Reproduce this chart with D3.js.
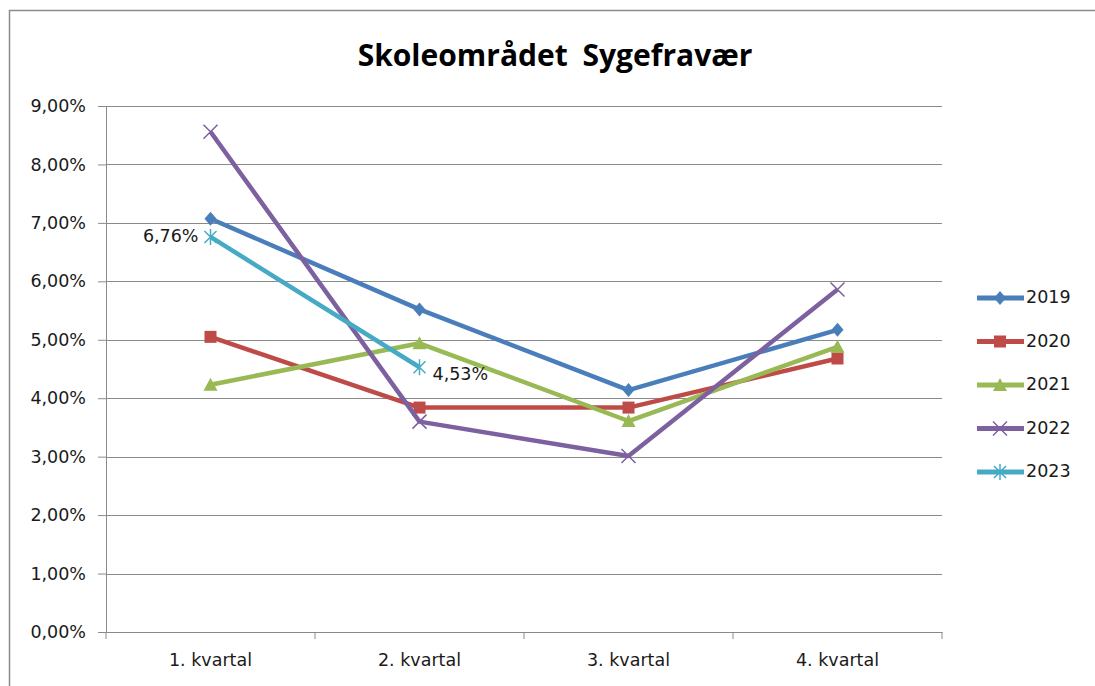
<!DOCTYPE html>
<html>
<head>
<meta charset="utf-8">
<script src="https://cdn.jsdelivr.net/npm/d3@7"></script>
<style>
  body { margin: 0; background: #fff; }
  svg { display: block; }
</style>
</head>
<body>
<div id="root"></div>
<script>
const quarters = ["1. kvartal", "2. kvartal", "3. kvartal", "4. kvartal"];
const years = ["2019", "2020", "2021", "2022", "2023"];
const v2019 = [7.07, 5.52, 4.14, 5.17];
const v2020 = [5.05, 3.84, 3.84, 4.68];
const v2021 = [4.23, 4.94, 3.61, 4.88];
const v2022 = [8.56, 3.6, 3.01, 5.86];
const v2023 = [6.76, 4.53];
const yTicks = [0, 1, 2, 3, 4, 5, 6, 7, 8, 9];
const colors = ["#4A7EBB", "#BE4B48", "#98B954", "#7D60A0", "#46AAC5"];
const markers = ["diamond", "square", "triangle", "x", "star"];

const width = 1095;
const height = 686;
const margin = { top: 106, right: 153, bottom: 54, left: 106 };
const innerWidth = width - margin.left - margin.right;
const innerHeight = height - margin.top - margin.bottom;
const fmt = (v) => v.toFixed(2).replace(".", ",") + "%";
const font = "'DejaVu Sans', Verdana, sans-serif";
const fontSize = "17.5px";

const series = [v2019, v2020, v2021, v2022, v2023].map((vals, i) => ({
  year: years[i],
  color: colors[i],
  marker: markers[i],
  values: vals.map((v, j) => ({ q: quarters[j], v })),
}));

const xScale = d3.scaleBand().domain(quarters).range([0, innerWidth]);
const yScale = d3.scaleLinear().domain([0, 9]).range([innerHeight, 0]);

const svg = d3
  .select("#root")
  .append("svg")
  .attr("width", width)
  .attr("height", height);

// chart border (right and bottom edges fall outside the picture)
svg
  .append("path")
  .attr("d", `M9.5,${height}V10.5H${width}`)
  .attr("fill", "none")
  .attr("stroke", "#8c8c8c")
  .attr("stroke-width", 1.5);

svg
  .append("text")
  .text("Skoleområdet Sygefravær")
  .attr("x", 555)
  .attr("y", 66)
  .attr("text-anchor", "middle")
  .style("font-family", "'Open Sans', sans-serif")
  .style("font-size", "30px")
  .style("font-weight", 700)
  .style("word-spacing", "7px")
  .attr("fill", "#000");

const innerChart = svg
  .append("g")
  .attr("transform", `translate(${margin.left}, ${margin.top})`);

// gridlines
innerChart
  .selectAll(".grid")
  .data(yTicks.slice(1))
  .join("line")
  .attr("class", "grid")
  .attr("x1", 0)
  .attr("x2", innerWidth)
  .attr("y1", (d) => Math.round(yScale(d)) + 0.5)
  .attr("y2", (d) => Math.round(yScale(d)) + 0.5)
  .attr("stroke", "#8a8a8a");

const leftAxis = d3
  .axisLeft(yScale)
  .tickValues(yTicks)
  .tickSize(8)
  .tickPadding(12)
  .tickFormat((d) => fmt(d));
const leftG = innerChart.append("g").call(leftAxis);

const bottomAxis = d3.axisBottom(xScale).tickSize(0).tickPadding(22);
const bottomG = innerChart
  .append("g")
  .attr("transform", `translate(0, ${innerHeight})`)
  .call(bottomAxis);

// category boundary ticks
bottomG
  .selectAll(".bound")
  .data(d3.range(quarters.length + 1))
  .join("line")
  .attr("class", "bound")
  .attr("x1", (i) => i * xScale.step())
  .attr("x2", (i) => i * xScale.step())
  .attr("y1", 0)
  .attr("y2", 7)
  .attr("stroke", "#8a8a8a");

[leftG, bottomG].forEach((g) => {
  g.select(".domain").attr("stroke", "#8a8a8a");
  g.selectAll(".tick line").attr("stroke", "#8a8a8a");
  g.selectAll("text")
    .style("font-family", font)
    .style("font-size", fontSize)
    .attr("fill", "#1a1a1a");
});

const xPos = (q) => xScale(q) + xScale.bandwidth() / 2;
const line = d3
  .line()
  .x((d) => xPos(d.q))
  .y((d) => yScale(d.v));

function drawMarker(g, type, color) {
  if (type === "diamond") {
    g.append("path").attr("d", "M0,-7L6,0L0,7L-6,0Z").attr("fill", color);
  } else if (type === "square") {
    g.append("rect")
      .attr("x", -6)
      .attr("y", -6)
      .attr("width", 12)
      .attr("height", 12)
      .attr("fill", color);
  } else if (type === "triangle") {
    g.append("path").attr("d", "M0,-7L7,6L-7,6Z").attr("fill", color);
  } else if (type === "x") {
    g.append("path")
      .attr("d", "M-7,-7L7,7M7,-7L-7,7")
      .attr("stroke", color)
      .attr("stroke-width", 1.5);
  } else {
    g.append("path")
      .attr("d", "M-6,-6L6,6M6,-6L-6,6M0,-8L0,8")
      .attr("stroke", color)
      .attr("stroke-width", 1.5);
  }
}

series.forEach((s) => {
  innerChart
    .append("path")
    .datum(s.values)
    .attr("d", line)
    .attr("fill", "none")
    .attr("stroke", s.color)
    .attr("stroke-width", 4.5)
    .attr("stroke-linejoin", "round");

  s.values.forEach((d) => {
    const g = innerChart
      .append("g")
      .attr("transform", `translate(${xPos(d.q)}, ${yScale(d.v)})`);
    drawMarker(g, s.marker, s.color);
  });
});

// data labels for 2023
const s2023 = series[4];
innerChart
  .append("text")
  .text(fmt(s2023.values[0].v))
  .attr("x", xPos(s2023.values[0].q) - 12)
  .attr("y", yScale(s2023.values[0].v))
  .attr("text-anchor", "end")
  .attr("dominant-baseline", "middle")
  .style("font-family", font)
  .style("font-size", fontSize)
  .attr("fill", "#1a1a1a");
innerChart
  .append("text")
  .text(fmt(s2023.values[1].v))
  .attr("x", xPos(s2023.values[1].q) + 13)
  .attr("y", yScale(s2023.values[1].v) + 8)
  .attr("text-anchor", "start")
  .attr("dominant-baseline", "middle")
  .style("font-family", font)
  .style("font-size", fontSize)
  .attr("fill", "#1a1a1a");

// legend
const legend = svg.append("g").attr("transform", "translate(977, 298)");
series.forEach((s, i) => {
  const item = legend.append("g").attr("transform", `translate(0, ${i * 43.5})`);
  item
    .append("line")
    .attr("x1", 0)
    .attr("x2", 47)
    .attr("stroke", s.color)
    .attr("stroke-width", 5);
  drawMarker(item.append("g").attr("transform", "translate(23, 0)"), s.marker, s.color);
  item
    .append("text")
    .text(s.year)
    .attr("x", 49)
    .attr("dominant-baseline", "middle")
    .style("font-family", font)
    .style("font-size", fontSize)
    .attr("fill", "#1a1a1a");
});
</script>
</body>
</html>
